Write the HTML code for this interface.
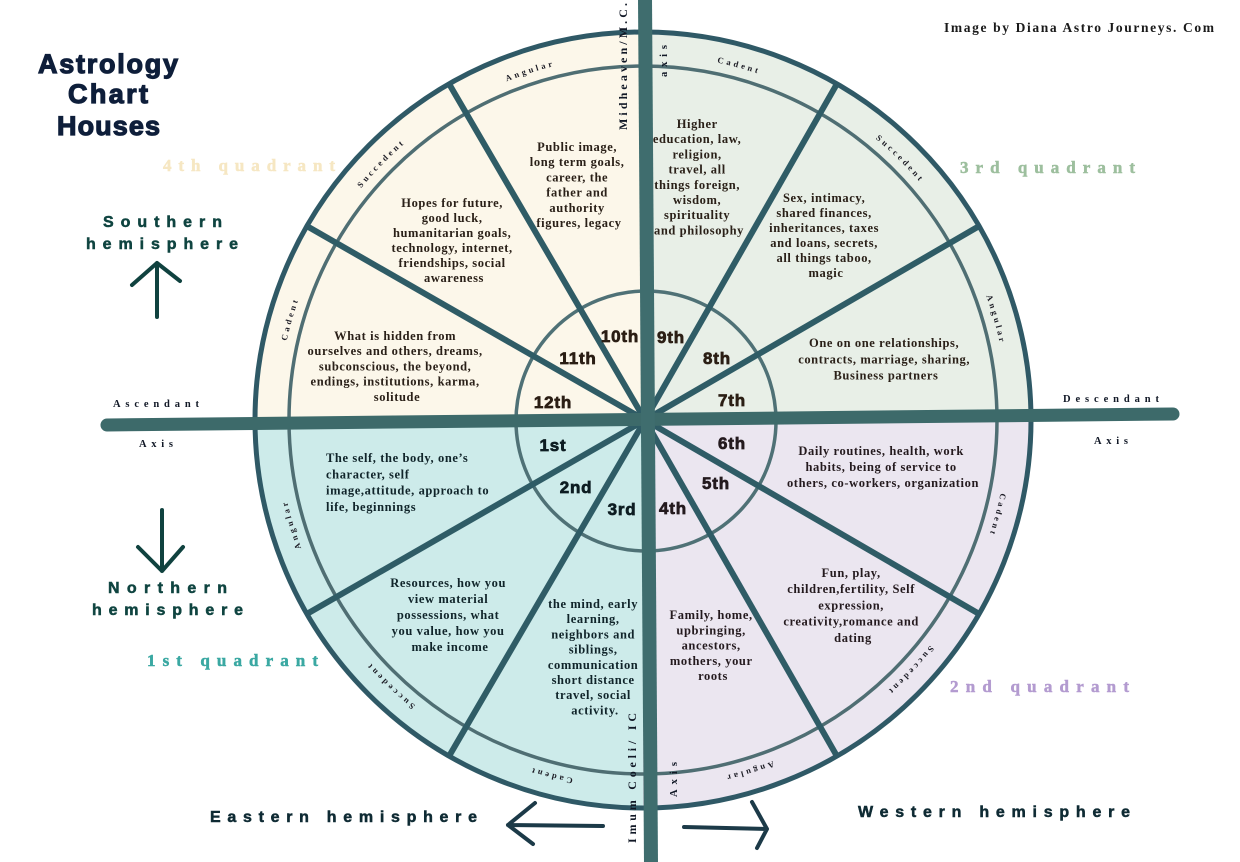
<!DOCTYPE html>
<html><head><meta charset="utf-8"><style>
html,body{margin:0;padding:0;background:#fff;}
svg{display:block;}
.d{font-family:"Liberation Serif",serif;font-weight:bold;font-size:12.5px;letter-spacing:0.6px;fill:#2a2018;}
.n{font-family:"Liberation Sans",sans-serif;font-weight:bold;font-size:17px;letter-spacing:0.8px;stroke-width:0.7px;}
.arc{font-family:"Liberation Serif",serif;font-weight:bold;font-size:8.5px;letter-spacing:3px;fill:#1b1b24;}
.lab{font-family:"Liberation Serif",serif;font-weight:bold;}
</style></head><body>
<svg width="1240" height="862" viewBox="0 0 1240 862" xmlns="http://www.w3.org/2000/svg">
<defs>
<path id="ring" d="M 278 420 A 365 365 0 0 1 1008 420 A 365 365 0 0 1 278 420 A 365 365 0 0 1 1008 420 A 365 365 0 0 1 278 420"/>
</defs>
<rect width="1240" height="862" fill="#fff"/>
<!-- quadrant fills -->
<path d="M643,420 L255,420 A388,388 0 0 1 643,32 Z" fill="#fcf7ea"/>
<path d="M643,420 L643,32 A388,388 0 0 1 1031,420 Z" fill="#e8efe7"/>
<path d="M643,420 L1031,420 A388,388 0 0 1 643,808 Z" fill="#ebe6f0"/>
<path d="M643,420 L643,808 A388,388 0 0 1 255,420 Z" fill="#cdebea"/>
<!-- rings -->
<circle cx="643" cy="420" r="354" fill="none" stroke="#4f6e73" stroke-width="3.5"/>
<circle cx="646" cy="421" r="130" fill="none" stroke="#4f7176" stroke-width="3.5"/>
<!-- spokes -->
<g stroke="#2f5c66" stroke-width="6" stroke-linecap="butt">
<line x1="645" y1="420" x2="981" y2="225"/>
<line x1="645" y1="420" x2="838" y2="82"/>
<line x1="645" y1="420" x2="448" y2="82"/>
<line x1="645" y1="420" x2="305" y2="225"/>
<line x1="645" y1="420" x2="305" y2="615"/>
<line x1="645" y1="420" x2="448" y2="758"/>
<line x1="645" y1="420" x2="838" y2="758"/>
<line x1="645" y1="420" x2="981" y2="615"/>
</g>
<circle cx="643" cy="420" r="388" fill="none" stroke="#2f5966" stroke-width="5"/>
<!-- axes -->
<line x1="107" y1="425" x2="1173" y2="414" stroke="#3d6a6a" stroke-width="13" stroke-linecap="round"/>
<line x1="645" y1="-2" x2="651" y2="864" stroke="#3f6d6e" stroke-width="14"/>

<!-- arc labels -->
<text class="arc" text-anchor="middle"><textPath href="#ring" startOffset="459">Angular</textPath></text>
<text class="arc" text-anchor="middle"><textPath href="#ring" startOffset="283">Succedent</textPath></text>
<text class="arc" text-anchor="middle"><textPath href="#ring" startOffset="102">Cadent</textPath></text>
<text class="arc" text-anchor="middle"><textPath href="#ring" startOffset="670">Cadent</textPath></text>
<text class="arc" text-anchor="middle"><textPath href="#ring" startOffset="857">Succedent</textPath></text>
<text class="arc" text-anchor="middle"><textPath href="#ring" startOffset="1045">Angular</textPath></text>
<text class="arc" text-anchor="middle"><textPath href="#ring" startOffset="1242">Cadent</textPath></text>
<text class="arc" text-anchor="middle"><textPath href="#ring" startOffset="1421">Succedent</textPath></text>
<text class="arc" text-anchor="middle"><textPath href="#ring" startOffset="1612">Angular</textPath></text>
<text class="arc" text-anchor="middle"><textPath href="#ring" startOffset="1812">Cadent</textPath></text>
<text class="arc" text-anchor="middle"><textPath href="#ring" startOffset="1997">Succedent</textPath></text>
<text class="arc" text-anchor="middle"><textPath href="#ring" startOffset="2187">Angular</textPath></text>

<!-- house descriptions -->
<text class="d" text-anchor="middle">
<tspan x="579" y="151">Public image,</tspan>
<tspan x="579" dy="15.2">long term goals,</tspan>
<tspan x="579" dy="15.2">career, the</tspan>
<tspan x="579" dy="15.2">father and</tspan>
<tspan x="579" dy="15.2">authority</tspan>
<tspan x="579" dy="15.2">figures, legacy</tspan>
</text>
<text class="d" text-anchor="middle">
<tspan x="454" y="207">Hopes for future,</tspan>
<tspan x="454" dy="15">good luck,</tspan>
<tspan x="454" dy="15">humanitarian goals,</tspan>
<tspan x="454" dy="15">technology, internet,</tspan>
<tspan x="454" dy="15">friendships, social</tspan>
<tspan x="454" dy="15">awareness</tspan>
</text>
<text class="d" text-anchor="middle">
<tspan x="397" y="340">What is hidden from</tspan>
<tspan x="397" dy="15.2">ourselves and others, dreams,</tspan>
<tspan x="397" dy="15.2">subconscious, the beyond,</tspan>
<tspan x="397" dy="15.2">endings, institutions, karma,</tspan>
<tspan x="397" dy="15.2">solitude</tspan>
</text>
<text class="d" text-anchor="middle">
<tspan x="699" y="128">Higher</tspan>
<tspan x="699" dy="15.2">education, law,</tspan>
<tspan x="699" dy="15.2">religion,</tspan>
<tspan x="699" dy="15.2">travel, all</tspan>
<tspan x="699" dy="15.2">things foreign,</tspan>
<tspan x="699" dy="15.2">wisdom,</tspan>
<tspan x="699" dy="15.2">spirituality</tspan>
<tspan x="699" dy="15.2">and philosophy</tspan>
</text>
<text class="d" text-anchor="middle">
<tspan x="826" y="202">Sex, intimacy,</tspan>
<tspan x="826" dy="15">shared finances,</tspan>
<tspan x="826" dy="15">inheritances, taxes</tspan>
<tspan x="826" dy="15">and loans, secrets,</tspan>
<tspan x="826" dy="15">all things taboo,</tspan>
<tspan x="826" dy="15">magic</tspan>
</text>
<text class="d" text-anchor="middle">
<tspan x="886" y="347">One on one relationships,</tspan>
<tspan x="886" dy="16.3">contracts, marriage, sharing,</tspan>
<tspan x="886" dy="16.3">Business partners</tspan>
</text>
<text class="d" text-anchor="start" style="fill:#10242a">
<tspan x="326" y="462">The self, the body, one’s</tspan>
<tspan x="326" dy="16.3">character, self</tspan>
<tspan x="326" dy="16.3">image,attitude, approach to</tspan>
<tspan x="326" dy="16.3">life, beginnings</tspan>
</text>
<text class="d" text-anchor="middle" style="fill:#10242a">
<tspan x="450" y="587">Resources, how you</tspan>
<tspan x="450" dy="16">view material</tspan>
<tspan x="450" dy="16">possessions, what</tspan>
<tspan x="450" dy="16">you value, how you</tspan>
<tspan x="450" dy="16">make income</tspan>
</text>
<text class="d" text-anchor="middle" style="fill:#10242a">
<tspan x="595" y="608">the mind, early</tspan>
<tspan x="595" dy="15.2">learning,</tspan>
<tspan x="595" dy="15.2">neighbors and</tspan>
<tspan x="595" dy="15.2">siblings,</tspan>
<tspan x="595" dy="15.2">communication</tspan>
<tspan x="595" dy="15.2">short distance</tspan>
<tspan x="595" dy="15.2">travel, social</tspan>
<tspan x="595" dy="15.2">activity.</tspan>
</text>
<text class="d" text-anchor="middle" style="fill:#241a1e">
<tspan x="713" y="619">Family, home,</tspan>
<tspan x="713" dy="15.3">upbringing,</tspan>
<tspan x="713" dy="15.3">ancestors,</tspan>
<tspan x="713" dy="15.3">mothers, your</tspan>
<tspan x="713" dy="15.3">roots</tspan>
</text>
<text class="d" text-anchor="middle" style="fill:#241a1e">
<tspan x="853" y="577">Fun, play,</tspan>
<tspan x="853" dy="16.2">children,fertility,  Self</tspan>
<tspan x="853" dy="16.2">expression,</tspan>
<tspan x="853" dy="16.2">creativity,romance and</tspan>
<tspan x="853" dy="16.2">dating</tspan>
</text>
<text class="d" text-anchor="middle" style="fill:#241a1e">
<tspan x="883" y="455">Daily routines, health, work</tspan>
<tspan x="883" dy="16">habits, being of service to</tspan>
<tspan x="883" dy="16">others, co-workers, organization</tspan>
</text>

<!-- house numbers -->
<g class="n" text-anchor="middle" fill="#2b1e14" stroke="#2b1e14">
<text x="620" y="342">10th</text>
<text x="578" y="364">11th</text>
<text x="553" y="408">12th</text>
<text x="671" y="343">9th</text>
<text x="717" y="364">8th</text>
<text x="732" y="406">7th</text>
</g>
<g class="n" text-anchor="middle" fill="#0d1d22" stroke="#0d1d22">
<text x="553" y="451">1st</text>
<text x="576" y="493">2nd</text>
<text x="622" y="515">3rd</text>
</g>
<g class="n" text-anchor="middle" fill="#241a1e" stroke="#241a1e">
<text x="732" y="449">6th</text>
<text x="716" y="489">5th</text>
<text x="673" y="514">4th</text>
</g>

<!-- title -->
<g font-family="Liberation Sans, sans-serif" font-weight="bold" font-size="27" fill="#0e1e3a" stroke="#0e1e3a" stroke-width="1.2">
<text x="38" y="73" textLength="140" lengthAdjust="spacing">Astrology</text>
<text x="68" y="103" textLength="80" lengthAdjust="spacing">Chart</text>
<text x="57" y="135" textLength="103" lengthAdjust="spacing">Houses</text>
</g>
<text class="lab" x="944" y="32" font-size="13.5" fill="#1a1a1a" textLength="270" lengthAdjust="spacing">Image by Diana Astro Journeys. Com</text>

<!-- quadrant labels -->
<g class="lab" font-size="17">
<text x="163" y="171" fill="#f6e7c3" stroke="#f6e7c3" stroke-width="0.5" textLength="172" lengthAdjust="spacing">4th quadrant</text>
<text x="960" y="173" fill="#9dbf9e" stroke="#9dbf9e" stroke-width="0.5" textLength="175" lengthAdjust="spacing">3rd quadrant</text>
<text x="147" y="666" fill="#3aa8a2" stroke="#3aa8a2" stroke-width="0.5" textLength="171" lengthAdjust="spacing">1st quadrant</text>
<text x="950" y="692" fill="#b39bd0" stroke="#b39bd0" stroke-width="0.5" textLength="179" lengthAdjust="spacing">2nd quadrant</text>
</g>

<!-- hemispheres -->
<g font-family="Liberation Sans, sans-serif" font-weight="bold" font-size="16" fill="#0f4440" stroke="#0f4440" stroke-width="0.5">
<text x="103" y="227" textLength="119" lengthAdjust="spacing">Southern</text>
<text x="86" y="249" textLength="152" lengthAdjust="spacing">hemisphere</text>
<text x="108" y="593" textLength="119" lengthAdjust="spacing">Northern</text>
<text x="92" y="615" textLength="151" lengthAdjust="spacing">hemisphere</text>
</g>
<g font-family="Liberation Sans, sans-serif" font-weight="bold" font-size="16" fill="#0e2a33" stroke="#0e2a33" stroke-width="0.5">
<text x="210" y="822" textLength="267" lengthAdjust="spacing">Eastern hemisphere</text>
<text x="858" y="817" textLength="272" lengthAdjust="spacing">Western hemisphere</text>
</g>

<!-- axis labels -->
<g class="lab" font-size="10.5" fill="#111826">
<text x="113" y="407" textLength="86" lengthAdjust="spacing">Ascendant</text>
<text x="139" y="447" textLength="34" lengthAdjust="spacing">Axis</text>
<text x="1063" y="402" textLength="96" lengthAdjust="spacing">Descendant</text>
<text x="1094" y="444" textLength="34" lengthAdjust="spacing">Axis</text>
<text transform="translate(627,130) rotate(-90)" x="0" y="0" font-size="12" textLength="127" lengthAdjust="spacing">Midheaven/M.C.</text>
<text transform="translate(667,77) rotate(-90)" x="0" y="0" textLength="32" lengthAdjust="spacing">axis</text>
<text transform="translate(636,843) rotate(-90)" x="0" y="0" font-size="12" textLength="130" lengthAdjust="spacing">Imum Coeli/ IC</text>
<text transform="translate(677,797) rotate(-90)" x="0" y="0" textLength="35" lengthAdjust="spacing">Axis</text>
</g>

<!-- arrows -->
<g fill="none" stroke="#10423f" stroke-width="4" stroke-linecap="round" stroke-linejoin="round">
<path d="M157,317 L157,263 M132,285 L157,263 L180,281"/>
<path d="M162,510 L162,571 M138,547 L162,571 L183,547"/>
</g>
<g fill="none" stroke="#1c3a48" stroke-width="4" stroke-linecap="round" stroke-linejoin="round">
<path d="M603,826 L508,825 M535,803 L508,825 L533,844"/>
<path d="M684,827 L767,829 M752,802 L767,829 L757,848"/>
</g>
</svg>
</body></html>
